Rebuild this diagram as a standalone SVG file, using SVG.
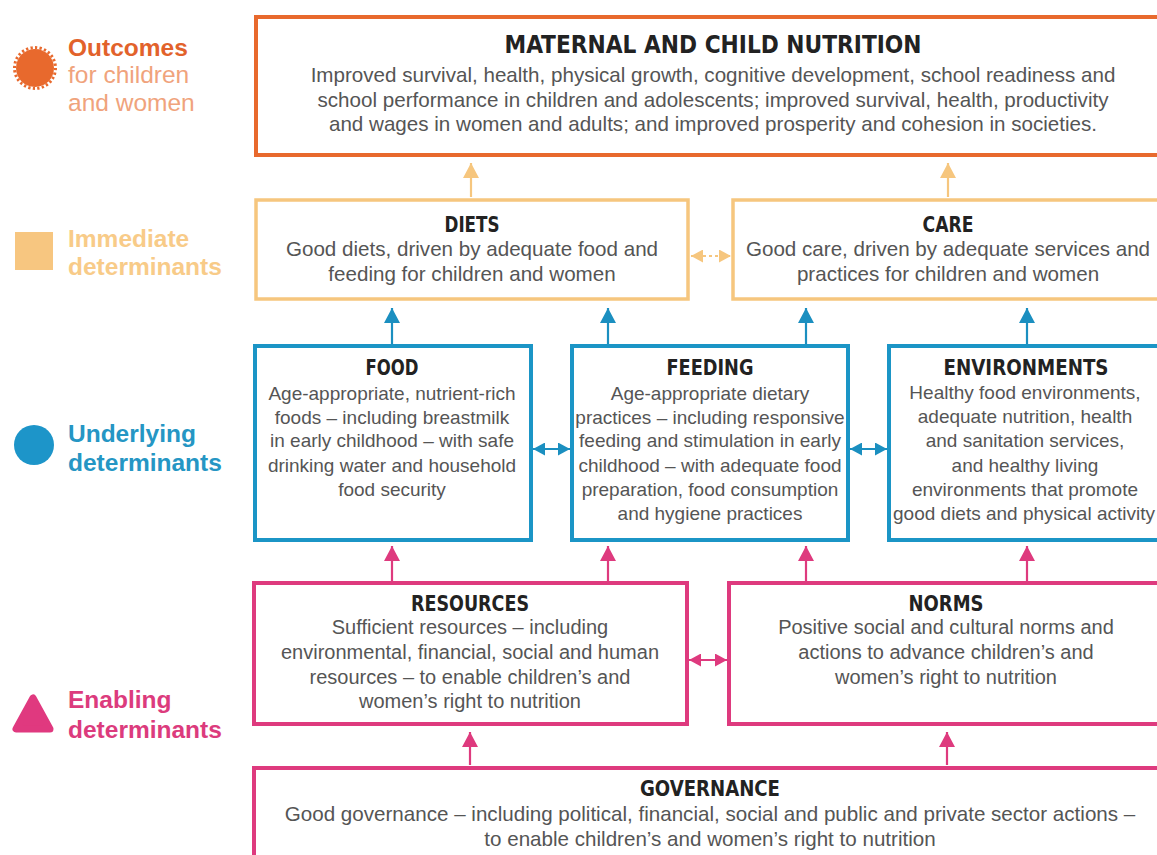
<svg xmlns="http://www.w3.org/2000/svg" width="1157" height="855" viewBox="0 0 1157 855">
<style>
.bg{fill:#ffffff}
.box{fill:#ffffff}
.bo{stroke:#E8692D;stroke-width:4}
.bl{stroke:#F6C67E;stroke-width:3.5}
.bb{stroke:#1B95C6;stroke-width:4}
.bp{stroke:#DE3A7E;stroke-width:4}
.t{font-family:"DejaVu Sans Condensed","DejaVu Sans",sans-serif;font-stretch:condensed;font-weight:bold;fill:#222222;text-anchor:middle}
.b{font-family:"Liberation Sans",Arial,sans-serif;font-size:20px;fill:#555555;text-anchor:middle}
.bw{font-size:20.6px}
.bn{font-size:19px}
.lg{font-family:"Liberation Sans",Arial,sans-serif;font-size:24.5px}
.cb{stroke:#1B8FC0;stroke-width:2.2;fill:none}
.cp{stroke:#DE3A7E;stroke-width:2.2;fill:none}
.co{stroke:#F6C67E;stroke-width:2.2;fill:none}
</style>
<defs>
<marker id="mo" viewBox="0 0 15 16" refX="15" refY="8" markerWidth="15" markerHeight="16" orient="auto-start-reverse" markerUnits="userSpaceOnUse"><path d="M0,0 L15,8 L0,16 z" fill="#F6C67E"/></marker>
<marker id="mb" viewBox="0 0 15 16" refX="15" refY="8" markerWidth="15" markerHeight="16" orient="auto-start-reverse" markerUnits="userSpaceOnUse"><path d="M0,0 L15,8 L0,16 z" fill="#1B8FC0"/></marker>
<marker id="mp" viewBox="0 0 15 16" refX="15" refY="8" markerWidth="15" markerHeight="16" orient="auto-start-reverse" markerUnits="userSpaceOnUse"><path d="M0,0 L15,8 L0,16 z" fill="#DE3A7E"/></marker>
<marker id="so" viewBox="0 0 12 13" refX="12" refY="6.5" markerWidth="12" markerHeight="13" orient="auto-start-reverse" markerUnits="userSpaceOnUse"><path d="M0,0 L12,6.5 L0,13 z" fill="#F6C67E"/></marker>
<marker id="sb" viewBox="0 0 12 13" refX="12" refY="6.5" markerWidth="12" markerHeight="13" orient="auto-start-reverse" markerUnits="userSpaceOnUse"><path d="M0,0 L12,6.5 L0,13 z" fill="#1B8FC0"/></marker>
<marker id="sp" viewBox="0 0 12 13" refX="12" refY="6.5" markerWidth="12" markerHeight="13" orient="auto-start-reverse" markerUnits="userSpaceOnUse"><path d="M0,0 L12,6.5 L0,13 z" fill="#DE3A7E"/></marker>
</defs>
<rect class="bg" x="0" y="0" width="1157" height="855"/>

<g id="legend">
  <g id="legend-outcomes">
    <circle cx="35" cy="68" r="19" fill="#E8692D"/>
    <circle cx="35" cy="68" r="20.5" fill="none" stroke="#E8692D" stroke-width="3" pathLength="56" stroke-dasharray="1 1"/>
    <text class="lg" x="68" y="56" font-weight="bold" fill="#E2622B">Outcomes</text>
    <text class="lg" x="68" y="83" fill="#F0A37C">for children</text>
    <text class="lg" x="68" y="111" fill="#F0A37C">and women</text>
  </g>
  <g id="legend-immediate">
    <rect x="15" y="232" width="38" height="38" fill="#F7C680"/>
    <text class="lg" x="68" y="247" font-weight="bold" fill="#F8CB88">Immediate</text>
    <text class="lg" x="68" y="275" font-weight="bold" fill="#F8CB88">determinants</text>
  </g>
  <g id="legend-underlying">
    <circle cx="34" cy="445" r="20" fill="#1D95C9"/>
    <text class="lg" x="68" y="442" font-weight="bold" fill="#2596C4">Underlying</text>
    <text class="lg" x="68" y="471" font-weight="bold" fill="#2596C4">determinants</text>
  </g>
  <g id="legend-enabling">
    <polygon points="33,698 16,729 50,729" fill="#E0397F" stroke="#E0397F" stroke-width="7" stroke-linejoin="round"/>
    <text class="lg" x="68" y="708" font-weight="bold" fill="#DC3B7D">Enabling</text>
    <text class="lg" x="68" y="738" font-weight="bold" fill="#DC3B7D">determinants</text>
  </g>
</g>

<g id="connectors">
  <line class="co" x1="471" y1="197" x2="471" y2="163" marker-end="url(#mo)"/>
  <line class="co" x1="948" y1="197" x2="948" y2="163" marker-end="url(#mo)"/>
  <line class="co" x1="691" y1="256" x2="731" y2="256" stroke-dasharray="3 3" marker-start="url(#so)" marker-end="url(#so)"/>
  <line class="cb" x1="392" y1="344" x2="392" y2="308" marker-end="url(#mb)"/>
  <line class="cb" x1="608" y1="344" x2="608" y2="308" marker-end="url(#mb)"/>
  <line class="cb" x1="806" y1="344" x2="806" y2="308" marker-end="url(#mb)"/>
  <line class="cb" x1="1027" y1="344" x2="1027" y2="308" marker-end="url(#mb)"/>
  <line class="cb" x1="533" y1="449" x2="570" y2="449" marker-start="url(#sb)" marker-end="url(#sb)"/>
  <line class="cb" x1="850" y1="449" x2="887" y2="449" marker-start="url(#sb)" marker-end="url(#sb)"/>
  <line class="cp" x1="392" y1="581" x2="392" y2="546" marker-end="url(#mp)"/>
  <line class="cp" x1="608" y1="581" x2="608" y2="546" marker-end="url(#mp)"/>
  <line class="cp" x1="806" y1="581" x2="806" y2="546" marker-end="url(#mp)"/>
  <line class="cp" x1="1027" y1="581" x2="1027" y2="546" marker-end="url(#mp)"/>
  <line class="cp" x1="689" y1="660" x2="727" y2="660" marker-start="url(#sp)" marker-end="url(#sp)"/>
  <line class="cp" x1="470" y1="765" x2="470" y2="732" marker-end="url(#mp)"/>
  <line class="cp" x1="947" y1="765" x2="947" y2="732" marker-end="url(#mp)"/>
</g>

<g id="outcomes">
  <rect class="box bo" x="256" y="17" width="912" height="138"/>
  <text class="t" x="713" y="53" font-size="25" textLength="417" lengthAdjust="spacingAndGlyphs">MATERNAL AND CHILD NUTRITION</text>
  <text class="b bw" x="713" y="82">Improved survival, health, physical growth, cognitive development, school readiness and</text>
  <text class="b bw" x="713" y="107">school performance in children and adolescents; improved survival, health, productivity</text>
  <text class="b bw" x="713" y="131">and wages in women and adults; and improved prosperity and cohesion in societies.</text>
</g>

<g id="diets">
  <rect class="box bl" x="256" y="200" width="432" height="99"/>
  <text class="t" x="472" y="232" font-size="21" textLength="55" lengthAdjust="spacingAndGlyphs">DIETS</text>
  <text class="b bw" x="472" y="256">Good diets, driven by adequate food and</text>
  <text class="b bw" x="472" y="281">feeding for children and women</text>
</g>

<g id="care">
  <rect class="box bl" x="733" y="200" width="435" height="99"/>
  <text class="t" x="948" y="232" font-size="21" textLength="51" lengthAdjust="spacingAndGlyphs">CARE</text>
  <text class="b bw" x="948" y="256">Good care, driven by adequate services and</text>
  <text class="b bw" x="948" y="281">practices for children and women</text>
</g>

<g id="food">
  <rect class="box bb" x="255" y="346" width="276" height="194"/>
  <text class="t" x="392" y="375" font-size="21" textLength="53" lengthAdjust="spacingAndGlyphs">FOOD</text>
  <text class="b bn" x="392" y="400">Age-appropriate, nutrient-rich</text>
  <text class="b bn" x="392" y="424">foods – including breastmilk</text>
  <text class="b bn" x="392" y="447">in early childhood – with safe</text>
  <text class="b bn" x="392" y="472">drinking water and household</text>
  <text class="b bn" x="392" y="496">food security</text>
</g>

<g id="feeding">
  <rect class="box bb" x="572" y="346" width="276" height="194"/>
  <text class="t" x="710" y="375" font-size="21" textLength="87" lengthAdjust="spacingAndGlyphs">FEEDING</text>
  <text class="b bn" x="710" y="400">Age-appropriate dietary</text>
  <text class="b bn" x="710" y="424">practices – including responsive</text>
  <text class="b bn" x="710" y="447">feeding and stimulation in early</text>
  <text class="b bn" x="710" y="472">childhood – with adequate food</text>
  <text class="b bn" x="710" y="496">preparation, food consumption</text>
  <text class="b bn" x="710" y="520">and hygiene practices</text>
</g>

<g id="environments">
  <rect class="box bb" x="889" y="346" width="279" height="194"/>
  <text class="t" x="1026" y="375" font-size="21" textLength="165" lengthAdjust="spacingAndGlyphs">ENVIRONMENTS</text>
  <text class="b bn" x="1025" y="399">Healthy food environments,</text>
  <text class="b bn" x="1025" y="423">adequate nutrition, health</text>
  <text class="b bn" x="1025" y="447">and sanitation services,</text>
  <text class="b bn" x="1025" y="472">and healthy living</text>
  <text class="b bn" x="1025" y="496">environments that promote</text>
  <text class="b bn" x="1024" y="520">good diets and physical activity</text>
</g>

<g id="resources">
  <rect class="box bp" x="254" y="583" width="433" height="141"/>
  <text class="t" x="470" y="611" font-size="21" textLength="118" lengthAdjust="spacingAndGlyphs">RESOURCES</text>
  <text class="b" x="470" y="634">Sufficient resources – including</text>
  <text class="b" x="470" y="659">environmental, financial, social and human</text>
  <text class="b" x="470" y="684">resources – to enable children’s and</text>
  <text class="b" x="470" y="708">women’s right to nutrition</text>
</g>

<g id="norms">
  <rect class="box bp" x="729" y="583" width="439" height="141"/>
  <text class="t" x="946" y="611" font-size="21" textLength="75" lengthAdjust="spacingAndGlyphs">NORMS</text>
  <text class="b" x="946" y="634">Positive social and cultural norms and</text>
  <text class="b" x="946" y="659">actions to advance children’s and</text>
  <text class="b" x="946" y="684">women’s right to nutrition</text>
</g>

<g id="governance">
  <rect class="box bp" x="254" y="768" width="914" height="110"/>
  <text class="t" x="710" y="796" font-size="21" textLength="140" lengthAdjust="spacingAndGlyphs">GOVERNANCE</text>
  <text class="b bw" x="710" y="821">Good governance – including political, financial, social and public and private sector actions –</text>
  <text class="b bw" x="710" y="846">to enable children’s and women’s right to nutrition</text>
</g>
</svg>
